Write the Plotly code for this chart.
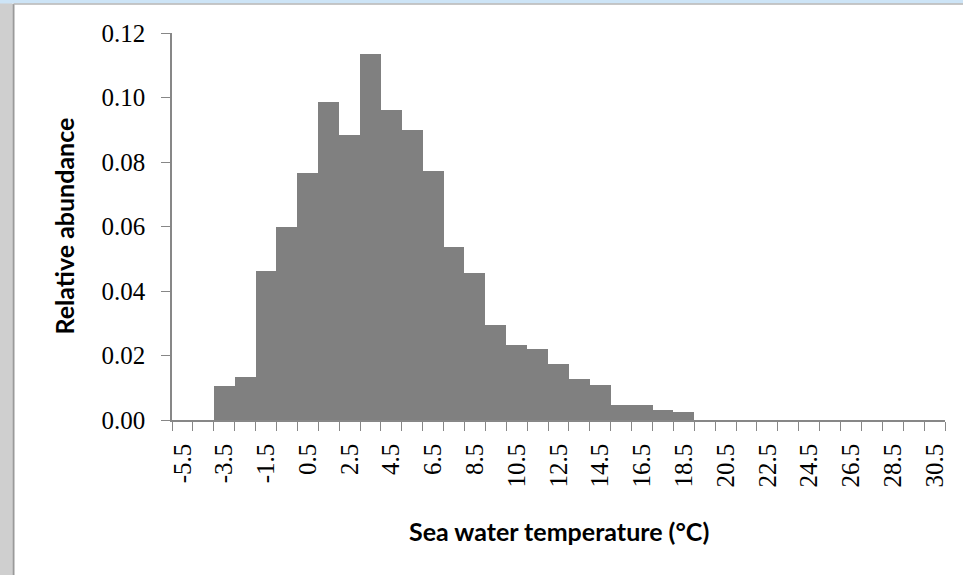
import plotly.graph_objects as go

# Bin labels (sea water temperature, °C) and relative abundance values
temps = [-5.5 + i for i in range(37)]
abundance = [0.0, 0.0, 0.0104, 0.0134, 0.0462, 0.0597, 0.0766, 0.0985, 0.0885,
             0.1134, 0.0960, 0.0900, 0.0771, 0.0536, 0.0457, 0.0294, 0.0234,
             0.0219, 0.0174, 0.0126, 0.0107, 0.0046, 0.0046, 0.0030, 0.0025,
             0.0, 0.0, 0.0, 0.0, 0.0, 0.0, 0.0, 0.0, 0.0, 0.0, 0.0, 0.0]
tick_labels = [f"{t:g}" for t in temps[::2]]
y_ticks = [0.0, 0.02, 0.04, 0.06, 0.08, 0.10, 0.12]

W, H = 963, 575
L, R, T, B = 172, 18, 33, 155
pw = W - L - R
ph = H - T - B

def px_x(p):
    return (p - L) / pw

def px_y(p):
    return (H - B - p) / ph

axis_col = "#878787"
serif = "Liberation Serif, Times New Roman, serif"
sans = "Lato, Open Sans, sans-serif"

fig = go.Figure(go.Bar(x=temps, y=abundance, marker=dict(color="#808080", line=dict(width=0)),
                       width=1.0))

boundaries = [t - 0.5 for t in temps] + [temps[-1] + 0.5]

fig.update_layout(
    width=W, height=H,
    margin=dict(l=L, r=R, t=T, b=B),
    paper_bgcolor="white", plot_bgcolor="white",
    bargap=0, showlegend=False,
    xaxis=dict(
        range=[temps[0] - 0.5, temps[-1] + 0.5],
        tickmode="array", tickvals=temps[::2], ticktext=tick_labels,
        tickangle=-90, ticks="", ticklabelstandoff=12,
        tickfont=dict(family=serif, size=25, color="black"),
        minor=dict(tickmode="array", tickvals=boundaries, ticks="outside",
                   ticklen=9, tickcolor=axis_col, tickwidth=1.3, showgrid=False),
        showline=True, linecolor=axis_col, linewidth=1.5,
        showgrid=False, zeroline=False, fixedrange=True,
    ),
    yaxis=dict(
        range=[0, 0.12], tickmode="array", tickvals=y_ticks,
        ticktext=[f"{v:.2f}" for v in y_ticks],
        ticks="outside", ticklen=9, tickcolor=axis_col, tickwidth=1.3,
        ticklabelstandoff=11,
        tickfont=dict(family=serif, size=25, color="black"),
        showline=True, linecolor=axis_col, linewidth=1.5,
        showgrid=False, zeroline=False, fixedrange=True,
    ),
    annotations=[
        dict(text="<b>Sea water temperature (°C)</b>", xref="paper", yref="paper",
             x=0.5, y=px_y(531), xanchor="center", yanchor="middle", showarrow=False,
             font=dict(family=sans, size=25, color="black")),
        dict(text="<b>Relative abundance</b>", xref="paper", yref="paper",
             x=px_x(63), y=0.5, xanchor="center", yanchor="middle", showarrow=False,
             textangle=-90, font=dict(family=sans, size=25, color="black")),
    ],
    shapes=[
        # light grey strip at the left edge
        dict(type="rect", xref="paper", yref="paper", x0=px_x(0), x1=px_x(12.5),
             y0=px_y(H), y1=px_y(0), fillcolor="#cfcfcf", line=dict(width=0), layer="below"),
        # frame border on the left
        dict(type="line", xref="paper", yref="paper", x0=px_x(13.5), x1=px_x(13.5),
             y0=px_y(H), y1=px_y(4), line=dict(color="#9a9a9a", width=2)),
        # light blue strip at the top
        dict(type="rect", xref="paper", yref="paper", x0=px_x(0), x1=px_x(W),
             y0=px_y(3.5), y1=px_y(0), fillcolor="#cde4f6", line=dict(width=0), layer="below"),
        dict(type="line", xref="paper", yref="paper", x0=px_x(13.5), x1=px_x(W),
             y0=px_y(4), y1=px_y(4), line=dict(color="#b4b4b4", width=1.5)),
    ],
)

fig.write_html("out.html")
